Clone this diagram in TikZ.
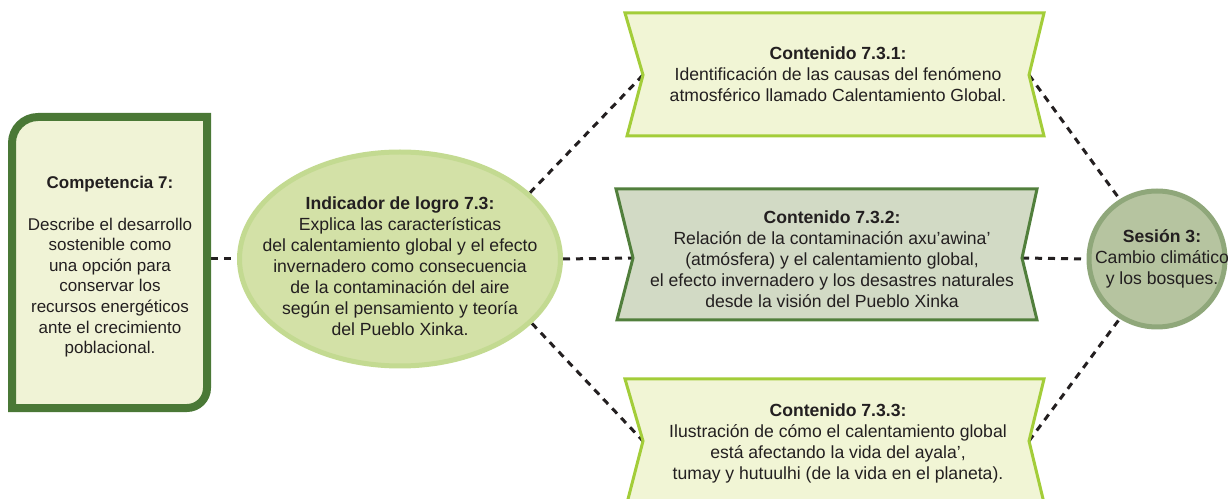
\documentclass[tikz,border=0pt]{standalone}
\usepackage{fontspec}
\setmainfont{Liberation Sans}
\usetikzlibrary{shapes.geometric,backgrounds}
\definecolor{txt}{HTML}{231F20}
\definecolor{compborder}{HTML}{4A7836}
\definecolor{compfill}{HTML}{F0F3D6}
\definecolor{ellfill}{HTML}{D3E1A7}
\definecolor{ellborder}{HTML}{C3DA91}
\definecolor{lightborder}{HTML}{A3CD39}
\definecolor{lightfill}{HTML}{F1F5D5}
\definecolor{midborder}{HTML}{517F3C}
\definecolor{midfill}{HTML}{D2DAC5}
\definecolor{sesfill}{HTML}{B6C4A0}
\definecolor{sesborder}{HTML}{8FA77A}
\tikzset{
  label text/.style={text=txt, align=center, inner sep=0pt, font=\fontsize{17.6}{21}\selectfont},
  connector/.style={draw=txt, line width=3pt, dash pattern=on 7pt off 6pt},
  lightbanner/.style={draw=lightborder, fill=lightfill, line width=3pt, line join=miter},
  midbanner/.style={draw=midborder, fill=midfill, line width=3pt, line join=miter},
}
\begin{document}
\begin{tikzpicture}[x=1pt,y=1pt]
\useasboundingbox (0,0) rectangle (1228,498);
\clip (0,0) rectangle (1228,498);

% Competencia box
\draw[draw=compborder, fill=compfill, line width=8pt]
  (12,90) -- (12,355) arc[start angle=180, end angle=90, radius=26]
  -- (207,381) -- (207,110) arc[start angle=0, end angle=-90, radius=20] -- cycle;
\coordinate (compR) at (211,239);
\node[label text, font=\fontsize{17}{20.6}\selectfont] (comp) at (110,231)
  {\textbf{Competencia 7:}\\[20.6pt]Describe el desarrollo\\sostenible como\\una opción para\\conservar los\\recursos energéticos\\ante el crecimiento\\poblacional.};

% Indicador ellipse
\node[ellipse, draw=ellborder, fill=ellfill, line width=5pt, minimum width=321pt, minimum height=214pt, inner sep=0pt] (e) at (400,239) {};
\node[label text] (et) at (400,232)
  {\textbf{Indicador de logro 7.3:}\\Explica las características\\del calentamiento global y el efecto\\invernadero como consecuencia\\de la contaminación del aire\\según el pensamiento y teoría\\del Pueblo Xinka.};

% Contenido 7.3.1
\coordinate (c1L) at (643,423);
\coordinate (c1R) at (1029,423);
\draw[lightbanner] (625,485) -- (1044,485) -- (c1R) -- (1044,362) -- (627,362) -- (c1L) -- cycle;
\node[label text] (c1) at (838,423.5)
  {\textbf{Contenido 7.3.1:}\\Identificación de las causas del fenómeno\\atmosférico llamado Calentamiento Global.};

% Contenido 7.3.2
\coordinate (c2L) at (633,240);
\coordinate (c2R) at (1022,240);
\draw[midbanner] (616,309) -- (1037,309) -- (c2R) -- (1037,178) -- (617,178) -- (c2L) -- cycle;
\node[label text] (c2) at (832,238.5)
  {\textbf{Contenido 7.3.2:}\\Relación de la contaminación axu'awina'\\(atmósfera) y el calentamiento global,\\el efecto invernadero y los desastres naturales\\desde la visión del Pueblo Xinka};

% Contenido 7.3.3
\coordinate (c3L) at (643,57);
\coordinate (c3R) at (1029,57);
\draw[lightbanner] (625,119) -- (1044,119) -- (c3R) -- (1044,-5) -- (627,-5) -- (c3L) -- cycle;
\node[label text] (c3) at (838,55)
  {\textbf{Contenido 7.3.3:}\\Ilustración de cómo el calentamiento global\\está afectando la vida del ayala',\\tumay y hutuulhi (de la vida en el planeta).};

% Sesion circle
\node[circle, draw=sesborder, fill=sesfill, line width=5pt, minimum size=136pt, inner sep=0pt] (s) at (1157,239) {};
\node[label text] (st) at (1162,239.5)
  {\textbf{Sesión 3:}\\Cambio climático\\y los bosques.};

% Connectors
\begin{pgfonlayer}{background}
\draw[connector] (compR) -- (e.west);
\draw[connector] (e.east) -- (c2L);
\draw[connector] (e.27) -- (c1L);
\draw[connector] (e.-26) -- (c3L);
\draw[connector] (c2R) -- (s.west);
\draw[connector] (c1R) -- (s.122);
\draw[connector] (c3R) -- (s.-122);
\end{pgfonlayer}
\end{tikzpicture}
\end{document}
